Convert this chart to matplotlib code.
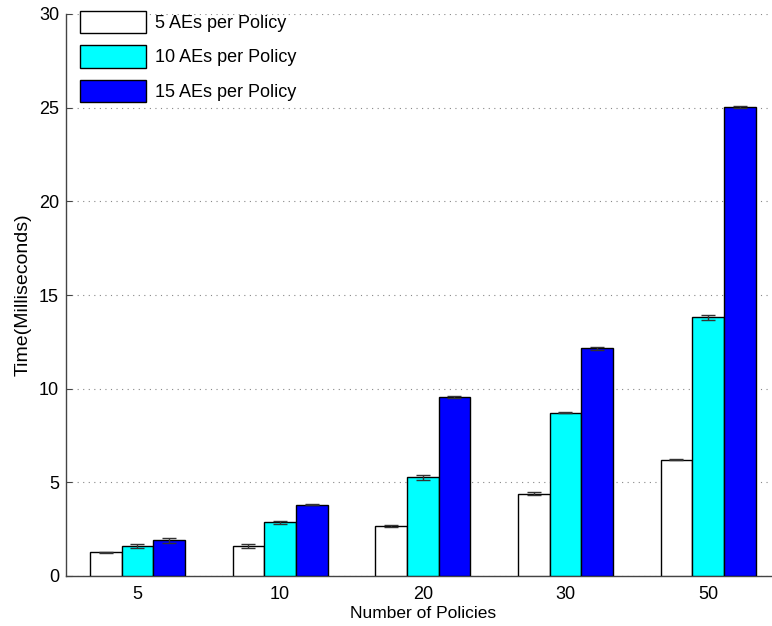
import matplotlib.pyplot as plt
import numpy as np

plt.rcParams["font.family"] = ["Liberation Sans", "DejaVu Sans"]

policies = ["5", "10", "20", "30", "50"]
series_labels = ["5 AEs per Policy", "10 AEs per Policy", "15 AEs per Policy"]
series_colors = ["#ffffff", "#00ffff", "#0000ff"]

# mean time (ms) and error per group, one list per series
times_5ae = [1.27, 1.62, 2.66, 4.40, 6.20]
times_10ae = [1.60, 2.86, 5.27, 8.71, 13.80]
times_15ae = [1.90, 3.80, 9.54, 12.15, 25.02]
errors_5ae = [0.02, 0.10, 0.05, 0.10, 0.02]
errors_10ae = [0.12, 0.10, 0.12, 0.02, 0.12]
errors_15ae = [0.12, 0.03, 0.05, 0.08, 0.05]

times = [times_5ae, times_10ae, times_15ae]
errors = [errors_5ae, errors_10ae, errors_15ae]

fig = plt.figure(figsize=(7.72, 6.26), dpi=100)
ax = fig.add_axes([66 / 772, 1 - 576 / 626, (779.5 - 66) / 772, (576 - 14) / 626])

x = np.arange(1, len(policies) + 1)
width = 0.222

for i, (vals, errs) in enumerate(zip(times, errors)):
    offset = (i - 1) * width
    ax.bar(x + offset, vals, width, color=series_colors[i], edgecolor="black",
           linewidth=1.0, label=series_labels[i], zorder=3)
    ax.errorbar(x + offset, vals, yerr=errs, fmt="none", ecolor="#333333",
                elinewidth=1.0, capsize=5, capthick=1.0, zorder=4)

ax.set_xlim(0.5, 5.5)
ax.set_ylim(0, 30)
ax.set_xticks(x)
ax.set_xticklabels(policies)
ax.set_yticks(np.arange(0, 31, 5))
ax.tick_params(direction="in", labelsize=13, length=4, color="#444444")
ax.tick_params(axis="x", pad=7)
ax.tick_params(axis="y", pad=5)

ax.yaxis.grid(True, linestyle=(0, (1, 4)), color="#888888", linewidth=0.8, zorder=0)
ax.set_axisbelow(True)
for side in ["top", "right"]:
    ax.spines[side].set_visible(False)
for side in ["left", "bottom"]:
    ax.spines[side].set_color("#444444")
    ax.spines[side].set_linewidth(1.0)

ax.set_xlabel("Number of Policies", fontsize=12.5, labelpad=2)
ax.set_ylabel("Time(Milliseconds)", fontsize=14, labelpad=5)

leg = ax.legend(loc="upper left", frameon=False, fontsize=13, handlelength=3.67,
                handleheight=1.51, labelspacing=0.68, handletextpad=0.5,
                borderaxespad=0.0, borderpad=0.0)
leg.set_bbox_to_anchor((80 / 772, 1 - 11 / 626), transform=fig.transFigure)

fig.savefig("out.png", dpi=100)
